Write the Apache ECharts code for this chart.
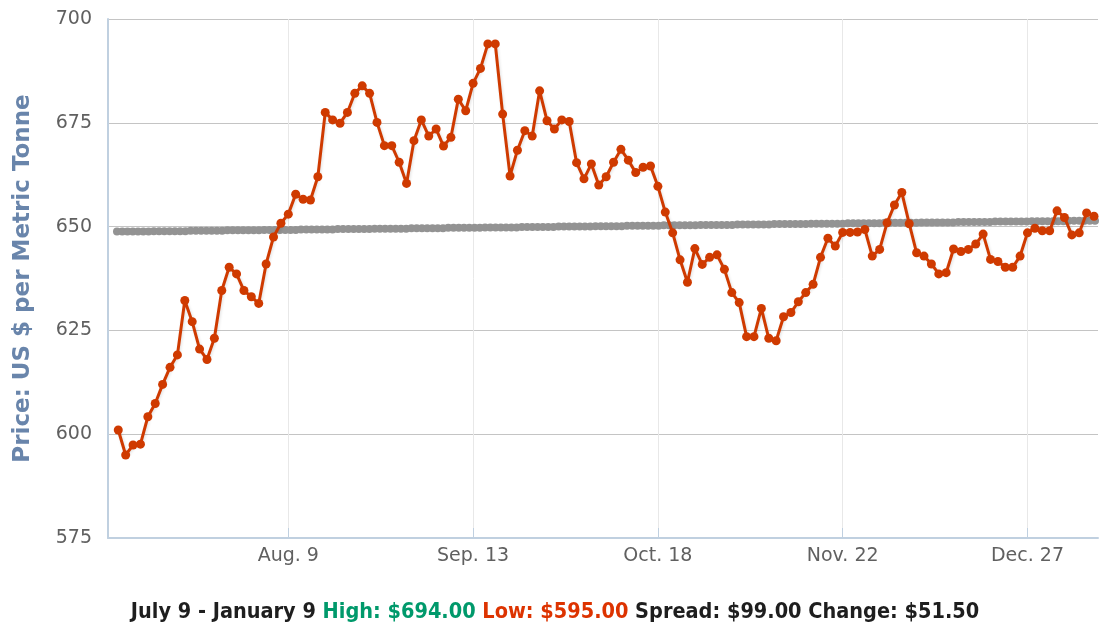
<!DOCTYPE html>
<html>
<head>
<meta charset="utf-8">
<script src="https://cdn.jsdelivr.net/npm/echarts@6/dist/echarts.min.js"></script>
<style>
  html, body { margin: 0; padding: 0; background: #fff; }
  #chart { width: 1099px; height: 626px; }
</style>
</head>
<body>
<div id="chart"></div>
<script>
// Daily closing prices, one per trading day (Jul 7 2010 – Jan 7 2011), US $ per metric tonne
const prices = [
  601, 595, 597.4, 597.6, 604.2, 607.4, 612, 616.1, 619.1, 632.2,
  627.1, 620.5, 618, 623.1, 634.6, 640.2, 638.6, 634.6, 633.1, 631.5,
  641, 647.5, 650.8, 653, 657.8, 656.6, 656.4, 662, 677.5, 675.7,
  674.9, 677.5, 682.1, 683.9, 682.1, 675.1, 669.5, 669.5, 665.5, 660.4,
  670.7, 675.7, 671.8, 673.5, 669.4, 671.5, 680.7, 677.9, 684.5, 688.1,
  694, 694, 677.1, 662.2, 668.4, 673.1, 671.8, 682.7, 675.5, 673.5,
  675.7, 675.3, 665.4, 661.5, 665.1, 660, 662, 665.5, 668.6, 666,
  663, 664.3, 664.6, 659.7, 653.5, 648.5, 642, 636.6, 644.7, 640.9,
  642.6, 643.2, 639.7, 634.1, 631.7, 623.5, 623.5, 630.3, 623.1, 622.5,
  628.3, 629.3, 631.9, 634.1, 636.1, 642.6, 647.2, 645.3, 648.6, 648.6,
  648.7, 649.3, 642.9, 644.5, 650.9, 655.2, 658.2, 650.7, 643.7, 642.9,
  641, 638.6, 638.9, 644.6, 644, 644.5, 645.8, 648.2, 642.1, 641.6,
  640.2, 640.2, 642.9, 648.5, 649.6, 649, 649, 653.8, 652.2, 648,
  648.5, 653.3, 652.5
];

// Long-run average price, one value per calendar day over the same span
const average = [
  648.8, 648.8, 648.8, 648.8, 648.8, 648.8, 648.8,
  648.9, 648.9, 648.9, 648.9, 648.9, 648.9, 648.9,
  649.0, 649.0, 649.0, 649.0, 649.0, 649.0, 649.0,
  649.1, 649.1, 649.1, 649.1, 649.1, 649.1, 649.1,
  649.2, 649.2, 649.2, 649.2, 649.2, 649.2, 649.2,
  649.3, 649.3, 649.3, 649.3, 649.3, 649.3, 649.3,
  649.4, 649.4, 649.4, 649.4, 649.4, 649.4, 649.4,
  649.5, 649.5, 649.5, 649.5, 649.5, 649.5, 649.5,
  649.6, 649.6, 649.6, 649.6, 649.6, 649.6, 649.6,
  649.7, 649.7, 649.7, 649.7, 649.7, 649.7, 649.7,
  649.8, 649.8, 649.8, 649.8, 649.8, 649.8, 649.8,
  649.9, 649.9, 649.9, 649.9, 649.9, 649.9, 649.9,
  650.0, 650.0, 650.0, 650.0, 650.0, 650.0, 650.0,
  650.1, 650.1, 650.1, 650.1, 650.1, 650.1,
  650.2, 650.2, 650.2, 650.2, 650.2, 650.2, 650.2,
  650.3, 650.3, 650.3, 650.3, 650.3, 650.3, 650.3,
  650.4, 650.4, 650.4, 650.4, 650.4, 650.4, 650.4,
  650.5, 650.5, 650.5, 650.5, 650.5, 650.5, 650.5,
  650.6, 650.6, 650.6, 650.6, 650.6, 650.6, 650.6,
  650.7, 650.7, 650.7, 650.7, 650.7, 650.7, 650.7,
  650.8, 650.8, 650.8, 650.8, 650.8, 650.8, 650.8,
  650.9, 650.9, 650.9, 650.9, 650.9, 650.9, 650.9,
  651.0, 651.0, 651.0, 651.0, 651.0, 651.0, 651.0,
  651.1, 651.1, 651.1, 651.1, 651.1, 651.1, 651.1,
  651.2, 651.2, 651.2, 651.2, 651.2, 651.2, 651.2,
  651.3, 651.3, 651.3, 651.3, 651.3, 651.3, 651.3,
  651.4, 651.4, 651.4, 651.4, 651.4, 651.4
];

const firstDay = '2010-07-07';
const tickDates  = ['2010-08-09', '2010-09-13', '2010-10-18', '2010-11-22', '2010-12-27'];
const tickLabels = ['Aug. 9', 'Sep. 13', 'Oct. 18', 'Nov. 22', 'Dec. 27'];
const yTicks = [575, 600, 625, 650, 675, 700];
const rangeLabel = 'July 9 - January 9';

// Trading-day calendar (weekdays) matching the price series
const DAY = 86400000;
const start = Date.parse(firstDay + 'T00:00:00Z');
const tradingDays = [];
for (let t = start; tradingDays.length < prices.length; t += DAY) {
  const wd = new Date(t).getUTCDay();
  if (wd !== 0 && wd !== 6) tradingDays.push(new Date(t).toISOString().slice(0, 10));
}
const tickIdx = tickDates.map(d => tradingDays.indexOf(d));
const labelAt = {};
tickIdx.forEach((i, k) => { labelAt[i] = tickLabels[k]; });

const priceData = prices.map((v, i) => [i, v]);
const avgData = average.map((v, i) => [i, v]);

const high = Math.max(...prices);
const low = Math.min(...prices);
const spread = high - low;
const change = prices[prices.length - 1] - prices[0];
const money = v => '$' + v.toFixed(2);

const chart = echarts.init(document.getElementById('chart'), null, { renderer: 'canvas' });
const axisBlue = '#c0d0e0';
const labelColor = '#606060';
const summaryFont = '"DejaVu Sans Condensed", "Liberation Sans Narrow", sans-serif';

chart.setOption({
  animation: false,
  backgroundColor: '#ffffff',
  grid: { left: 108, right: 1, top: 19, bottom: 88, containLabel: false, outerBoundsMode: 'none' },
  xAxis: [
    {
      type: 'value',
      min: -1.39,
      max: 132.54,
      axisLine: { show: true, onZero: false, lineStyle: { color: axisBlue, width: 2 } },
      axisTick: { show: true, inside: true, length: 10, customValues: tickIdx,
                  lineStyle: { color: axisBlue, width: 1 } },
      axisLabel: {
        customValues: tickIdx,
        formatter: v => labelAt[Math.round(v)] || '',
        color: labelColor, fontSize: 19, fontFamily: 'DejaVu Sans', margin: 9
      },
      splitLine: { show: true, lineStyle: { color: '#e8e8e8', width: 1 } }
    },
    {
      type: 'value',
      min: -1.71,
      max: 186.57,
      show: false
    }
  ],
  yAxis: {
    type: 'value',
    min: yTicks[0],
    max: yTicks[yTicks.length - 1],
    interval: 25,
    name: 'Price: US $ per Metric Tonne',
    nameLocation: 'middle',
    nameRotate: 90,
    nameGap: 73,
    nameTextStyle: { color: '#6985ab', fontSize: 23, fontWeight: 'bold', fontFamily: 'DejaVu Sans' },
    axisLine: { show: true, onZero: false, lineStyle: { color: axisBlue, width: 2 } },
    axisTick: { show: false },
    axisLabel: { color: labelColor, fontSize: 19, fontFamily: 'DejaVu Sans', margin: 16 },
    splitLine: { show: true, lineStyle: { color: '#c4c4c4', width: 1 } }
  },
  series: [
    {
      name: 'Average',
      type: 'line',
      xAxisIndex: 1,
      data: avgData,
      symbol: 'circle',
      symbolSize: 8,
      itemStyle: { color: '#939393' },
      lineStyle: { color: '#939393', width: 3 },
      z: 2
    },
    {
      name: 'Price',
      type: 'line',
      xAxisIndex: 0,
      data: priceData,
      symbol: 'circle',
      symbolSize: 9,
      itemStyle: { color: '#cf3a00' },
      lineStyle: { color: '#cf3a00', width: 3,
                   shadowColor: 'rgba(0,0,0,0.12)', shadowBlur: 3, shadowOffsetX: 1, shadowOffsetY: 1 },
      z: 3
    }
  ],
  graphic: [
    {
      type: 'text',
      x: 555,
      y: 612,
      style: {
        text: '{k|' + rangeLabel + '} {h|High: ' + money(high) + '} {l|Low: ' + money(low) +
              '} {k|Spread: ' + money(spread) + ' Change: ' + money(change) + '}',
        align: 'center',
        verticalAlign: 'middle',
        font: 'bold 21.5px ' + summaryFont,
        rich: {
          k: { fill: '#1e1e1e', fontWeight: 'bold', fontSize: 21.5, fontFamily: summaryFont },
          h: { fill: '#00996b', fontWeight: 'bold', fontSize: 21.5, fontFamily: summaryFont },
          l: { fill: '#dd3300', fontWeight: 'bold', fontSize: 21.5, fontFamily: summaryFont }
        }
      }
    }
  ]
});
</script>
</body>
</html>
